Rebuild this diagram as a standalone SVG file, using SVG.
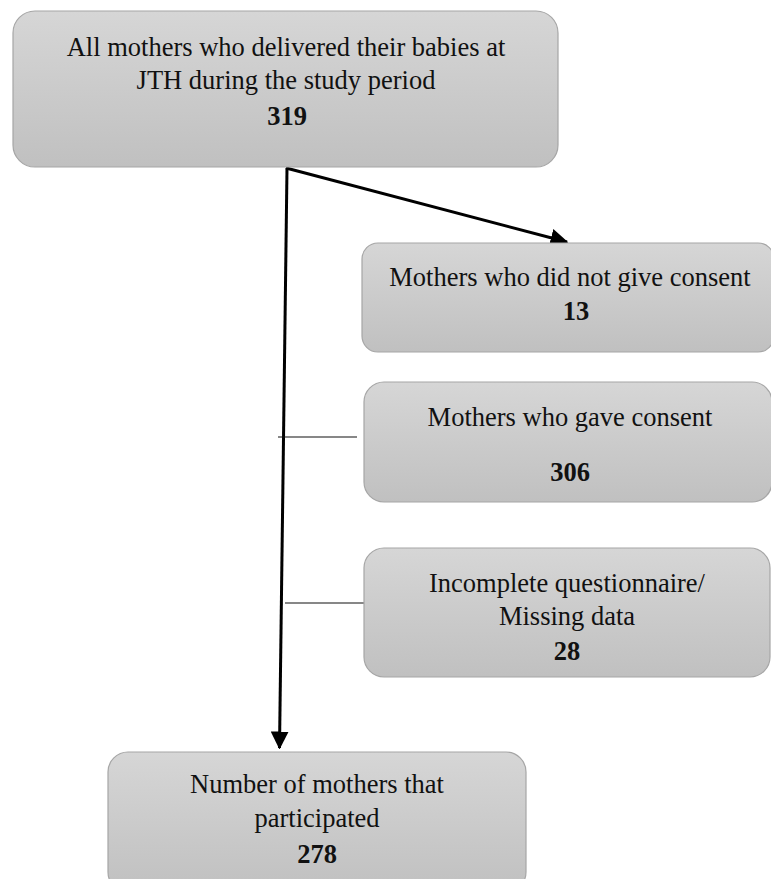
<svg xmlns="http://www.w3.org/2000/svg" width="771" height="879" viewBox="0 0 771 879">
<defs>
<linearGradient id="g" x1="0" y1="0" x2="0" y2="1">
<stop offset="0" stop-color="#d6d6d6"/>
<stop offset="1" stop-color="#c0c0c0"/>
</linearGradient>
<marker id="ah" markerWidth="6" markerHeight="6" refX="5.5" refY="3" orient="auto" markerUnits="strokeWidth">
<path d="M0,0 L6,3 L0,6 Z" fill="#000"/>
</marker>
<style>
.box{fill:url(#g);stroke:#a6a6a6;stroke-width:1.2}
text{font-family:"Liberation Serif","Times New Roman",serif;font-size:26.5px;fill:#111;text-anchor:middle}
.b{font-weight:bold}
.thick{stroke:#000;stroke-width:3;fill:none}
.thin{stroke:#111;stroke-width:1.2;fill:none}
</style>
</defs>
<g id="connectors">
<line class="thick" x1="287" y1="168" x2="279.5" y2="748" marker-end="url(#ah)"/>
<line class="thick" x1="286" y1="168" x2="567" y2="242" marker-end="url(#ah)"/>
<line class="thin" x1="278" y1="437" x2="357" y2="437"/>
<line class="thin" x1="285" y1="603" x2="367" y2="603"/>
</g>
<g id="n1">
<rect class="box" x="13" y="11" width="545" height="156" rx="22"/>
<text x="286" y="56">All mothers who delivered their babies at</text>
<text x="286" y="89">JTH during the study period</text>
<text class="b" x="287" y="125">319</text>
</g>
<g id="n2">
<rect class="box" x="362" y="243" width="412" height="109" rx="16"/>
<text x="570" y="286">Mothers who did not give consent</text>
<text class="b" x="576" y="320">13</text>
</g>
<g id="n3">
<rect class="box" x="364" y="382" width="408" height="120" rx="20"/>
<text x="570" y="426">Mothers who gave consent</text>
<text class="b" x="570" y="481">306</text>
</g>
<g id="n4">
<rect class="box" x="364" y="548" width="406" height="129" rx="20"/>
<text x="567" y="592">Incomplete questionnaire/</text>
<text x="567" y="625">Missing data</text>
<text class="b" x="567" y="660">28</text>
</g>
<g id="n5">
<rect class="box" x="108" y="752" width="418" height="140" rx="20"/>
<text x="317" y="793">Number of mothers that</text>
<text x="317" y="827">participated</text>
<text class="b" x="317" y="863">278</text>
</g>
</svg>
